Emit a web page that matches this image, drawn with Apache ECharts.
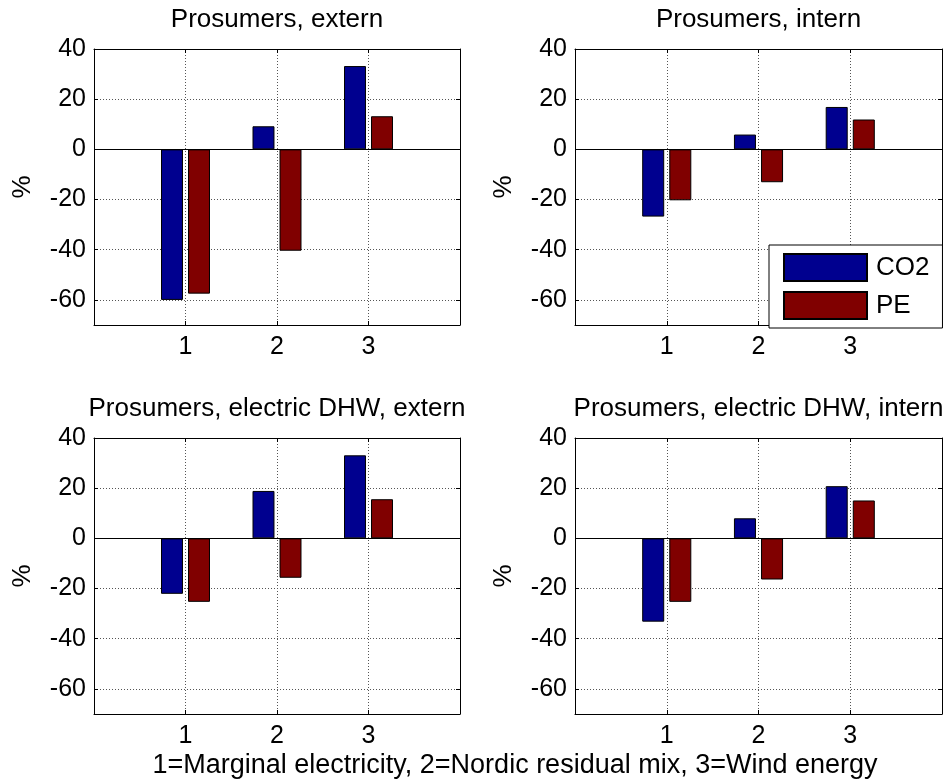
<!DOCTYPE html>
<html>
<head>
<meta charset="utf-8">
<script src="https://cdn.jsdelivr.net/npm/echarts@6/dist/echarts.min.js"></script>
<style>
html,body{margin:0;padding:0;background:#fff;}
#chart{width:950px;height:780px;}
</style>
</head>
<body>
<div id="chart"></div>
<script>
// ---- data ----
const categories = ['1', '2', '3'];
const axisSlots = ['', '1', '2', '3', ' '];
const seriesNames = ['CO2', 'PE'];
const panelTitles = [
  'Prosumers, extern',
  'Prosumers, intern',
  'Prosumers, electric DHW, extern',
  'Prosumers, electric DHW, intern'
];
const co2Extern = [-60, 9.2, 33.2];
const peExtern = [-57.5, -40.4, 13.2];
const co2Intern = [-26.8, 5.9, 16.9];
const peIntern = [-20.3, -13.1, 11.9];
const co2DhwExtern = [-22.1, 18.9, 33.1];
const peDhwExtern = [-25.3, -15.7, 15.6];
const co2DhwIntern = [-33.2, 8.0, 20.8];
const peDhwIntern = [-25.3, -16.4, 15.1];
const yMin = -70, yMax = 40;
const yLabel = '%';
const xLabel = '1=Marginal electricity, 2=Nordic residual mix, 3=Wind energy';

const panelData = [
  [co2Extern, peExtern],
  [co2Intern, peIntern],
  [co2DhwExtern, peDhwExtern],
  [co2DhwIntern, peDhwIntern]
];

// ---- layout / style ----
const FONT = '"Liberation Sans", Arial, Helvetica, sans-serif';
const colors = ['#00008F', '#800000'];
const grids = [
  {left: 94, top: 49, width: 366, height: 276},
  {left: 575, top: 49, width: 367, height: 276},
  {left: 94, top: 438, width: 366, height: 276},
  {left: 575, top: 438, width: 367, height: 276}
];
const titleTops = [7, 7, 396, 396];

const gridLine = {show: true, lineStyle: {color: '#555', width: 1, type: [1, 2]}};
const blackLine = {show: true, onZero: false, lineStyle: {color: '#000', width: 1}};

const xAxes = [], yAxes = [], series = [], titles = [];
grids.forEach((g, i) => {
  titles.push({
    text: panelTitles[i],
    left: g.left + g.width / 2,
    top: titleTops[i],
    textAlign: 'center',
    padding: 0,
    textStyle: {fontFamily: FONT, fontSize: 26, fontWeight: 'normal', color: '#000'}
  });
  xAxes.push({
    type: 'category', gridIndex: i, position: 'bottom', data: axisSlots,
    boundaryGap: false,
    axisLine: blackLine,
    axisTick: {show: true, inside: true, length: 4, lineStyle: {color: '#000'}},
    axisLabel: {interval: 0, margin: 10, color: '#000', fontFamily: FONT, fontSize: 25},
    splitLine: gridLine
  });
  xAxes.push({
    type: 'category', gridIndex: i, position: 'top', data: axisSlots,
    boundaryGap: false,
    axisLine: blackLine,
    axisTick: {show: true, inside: true, length: 4, lineStyle: {color: '#000'}},
    axisLabel: {show: false},
    splitLine: {show: false}
  });
  yAxes.push({
    type: 'value', gridIndex: i, position: 'left', min: yMin, max: yMax,
    splitNumber: 5,
    name: yLabel, nameLocation: 'middle', nameRotate: 90, nameGap: 58,
    nameTextStyle: {fontFamily: FONT, fontSize: 26, color: '#000'},
    axisLine: blackLine,
    axisTick: {show: true, inside: true, length: 4, lineStyle: {color: '#000'}},
    axisLabel: {showMinLabel: false, margin: 8, color: '#000', fontFamily: FONT, fontSize: 25},
    splitLine: gridLine
  });
  yAxes.push({
    type: 'value', gridIndex: i, position: 'right', min: yMin, max: yMax,
    splitNumber: 5,
    axisLine: blackLine,
    axisTick: {show: true, inside: true, length: 4, lineStyle: {color: '#000'}},
    axisLabel: {show: false},
    splitLine: {show: false}
  });
  panelData[i].forEach((vals, k) => {
    const s = {
      name: seriesNames[k],
      type: 'bar',
      xAxisIndex: 2 * i,
      yAxisIndex: 2 * i,
      data: vals.map((v, j) => [categories[j], v]),
      barWidth: '24%',
      barGap: '23%',
      itemStyle: {color: colors[k], borderColor: '#000', borderWidth: 1},
      emphasis: {disabled: true},
      animation: false
    };
    if (k === 0) {
      s.markLine = {
        silent: true, symbol: 'none', animation: false,
        label: {show: false},
        lineStyle: {color: '#000', type: 'solid', width: 1},
        data: [{yAxis: 0}]
      };
    }
    series.push(s);
  });
});

const chart = echarts.init(document.getElementById('chart'), null, {renderer: 'canvas'});
chart.setOption({
  backgroundColor: '#fff',
  animation: false,
  title: titles,
  grid: grids,
  xAxis: xAxes,
  yAxis: yAxes,
  legend: {
    data: seriesNames,
    orient: 'vertical',
    left: 769, top: 245,
    backgroundColor: '#fff',
    borderColor: '#000', borderWidth: 1, borderRadius: 0,
    padding: [8, 13, 8, 14],
    itemWidth: 83, itemHeight: 27, itemGap: 9,
    icon: 'rect',
    selectedMode: false,
    textStyle: {fontFamily: FONT, fontSize: 26, color: '#000', padding: [0, 0, 0, 4]}
  },
  graphic: [{
    type: 'text',
    x: 515, y: 752,
    style: {text: xLabel, fill: '#000', font: '27px ' + FONT, textAlign: 'center', textVerticalAlign: 'top'}
  }],
  series: series
});
</script>
</body>
</html>
